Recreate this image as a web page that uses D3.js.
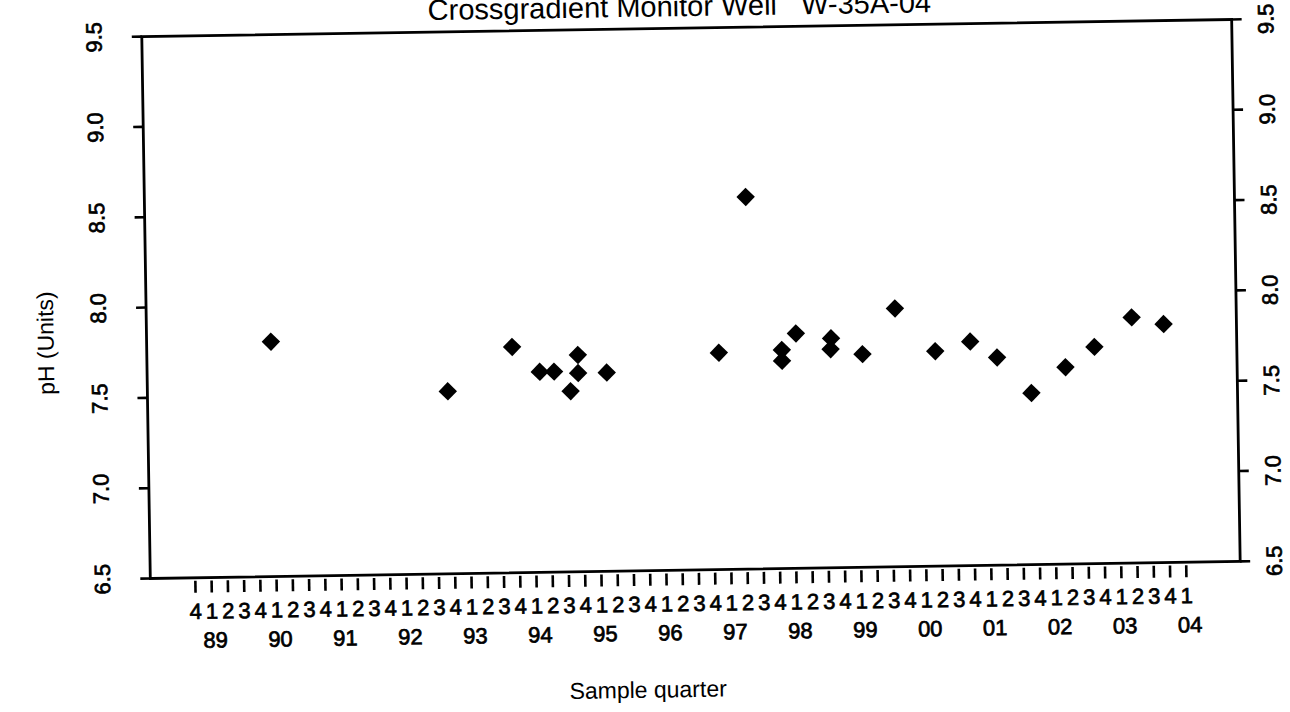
<!DOCTYPE html>
<html lang="en">
<head>
  <meta charset="UTF-8">
  <title>Crossgradient Monitor Well W-35A-04</title>
  <script src="https://d3js.org/d3.v7.min.js"></script>
  <style>
    body { margin: 0; background: #fff; }
    text { font-family: "Liberation Sans", Arial, sans-serif; fill: #000; }
    .axis-line { stroke: #000; stroke-width: 2.8px; fill: none; }
    .tick-line { stroke: #000; stroke-width: 2.6px; }
    .scan { stroke: #000; stroke-width: 0.7px; }
  </style>
</head>
<body>
  <svg id="chart" width="1290" height="712"></svg>
  <script>
    // sample dates as decimal years (quarter q of year Y starts at Y + (q-1)/4)
    const sampleDates = [
      1989.97, 1992.68, 1993.68, 1994.10, 1994.32, 1994.57, 1994.69, 1994.69,
      1995.13, 1996.86, 1997.31, 1997.83, 1997.83, 1998.05, 1998.59, 1998.58,
      1999.07, 1999.58, 2000.19, 2000.73, 2001.14, 2001.66, 2002.19, 2002.64,
      2003.22, 2003.71
    ];
    const phValues = [
      7.80, 7.51, 7.75, 7.61, 7.61, 7.50, 7.70, 7.60,
      7.60, 7.70, 8.56, 7.71, 7.65, 7.80, 7.77, 7.71,
      7.68, 7.93, 7.69, 7.74, 7.65, 7.45, 7.59, 7.70,
      7.86, 7.82
    ];
    const yTicks = [6.5, 7.0, 7.5, 8.0, 8.5, 9.0, 9.5];
    const yearLabels = ["89", "90", "91", "92", "93", "94", "95", "96",
                        "97", "98", "99", "00", "01", "02", "03", "04"];
    const quarterNames = ["1", "2", "3", "4"];

    // quarter ticks run from 1988 Q4 to 2004 Q1
    const quarterTicks = [{ t: 1988.75, label: "4" }];
    yearLabels.forEach((yy, i) => {
      const year = 1989 + i;
      quarterNames.forEach((q, j) => {
        const t = year + j / 4;
        if (t <= 2004) quarterTicks.push({ t: t, label: q });
      });
    });

    const svg = d3.select("#chart");
    // the scanned figure sits slightly tilted
    const g = svg.append("g").attr("transform", "rotate(-0.9, 690, 300)");

    const plotLeft = 146, plotRight = 1236, plotTop = 28, plotBottom = 570;

    const x = d3.scaleLinear().domain([1988.75, 2004.0]).range([191, 1182]);
    const y = d3.scaleLinear().domain([6.5, 9.5]).range([plotBottom, plotTop]);

    // title (cut off at the top of the page)
    g.append("text")
      .attr("x", 684).attr("y", 16)
      .attr("text-anchor", "middle")
      .style("font-size", "29px")
      .style("white-space", "pre")
      .text("Crossgradient Monitor Well   W-35A-04");

    // frame
    g.append("path").attr("class", "axis-line")
      .attr("d", `M${plotLeft},${plotTop}H${plotRight}V${plotBottom}H${plotLeft}Z`);

    // left axis ticks + labels
    yTicks.forEach(v => {
      g.append("line").attr("class", "tick-line")
        .attr("x1", plotLeft - 10).attr("x2", plotLeft)
        .attr("y1", y(v)).attr("y2", y(v));
      g.append("text")
        .attr("class", "scan")
        .attr("transform", `translate(${plotLeft - 48},${y(v)}) rotate(-90)`)
        .attr("text-anchor", "middle")
        .attr("dy", "0.35em")
        .style("font-size", "22px")
        .text(d3.format(".1f")(v));
    });

    // right axis ticks + labels
    yTicks.forEach(v => {
      g.append("line").attr("class", "tick-line")
        .attr("x1", plotRight).attr("x2", plotRight + 10)
        .attr("y1", y(v)).attr("y2", y(v));
      g.append("text")
        .attr("class", "scan")
        .attr("transform", `translate(${plotRight + 34},${y(v)}) rotate(-90)`)
        .attr("text-anchor", "middle")
        .attr("dy", "0.35em")
        .style("font-size", "22px")
        .text(d3.format(".1f")(v));
    });

    // quarter ticks along the bottom
    const qt = g.selectAll(".qtick").data(quarterTicks).enter().append("g")
      .attr("class", "qtick")
      .attr("transform", d => `translate(${x(d.t)},0)`);
    qt.append("line").attr("class", "tick-line")
      .attr("y1", plotBottom + 3).attr("y2", plotBottom + 15);
    qt.append("text")
      .attr("class", "scan")
      .attr("y", plotBottom + 41)
      .attr("text-anchor", "middle")
      .style("font-size", "22px")
      .text(d => d.label);

    // year labels under each first quarter
    g.selectAll(".year").data(yearLabels).enter().append("text")
      .attr("class", "year scan")
      .attr("x", (d, i) => x(1989 + i) + 3)
      .attr("y", plotBottom + 70)
      .attr("text-anchor", "middle")
      .style("font-size", "22px")
      .text(d => d);

    // axis titles
    g.append("text")
      .attr("x", 642).attr("y", 697)
      .attr("text-anchor", "middle")
      .style("font-size", "23px")
      .text("Sample quarter");

    g.append("text")
      .attr("transform", "translate(53,333) rotate(-90)")
      .attr("text-anchor", "middle")
      .style("font-size", "23px")
      .text("pH (Units)");

    // data points: filled diamonds
    const diamond = d3.symbol().type(d3.symbolSquare).size(170);
    g.selectAll(".pt").data(sampleDates).enter().append("path")
      .attr("class", "pt")
      .attr("d", diamond)
      .attr("fill", "#000")
      .attr("transform", (d, i) => `translate(${x(d)},${y(phValues[i])}) rotate(45)`);
  </script>
</body>
</html>
